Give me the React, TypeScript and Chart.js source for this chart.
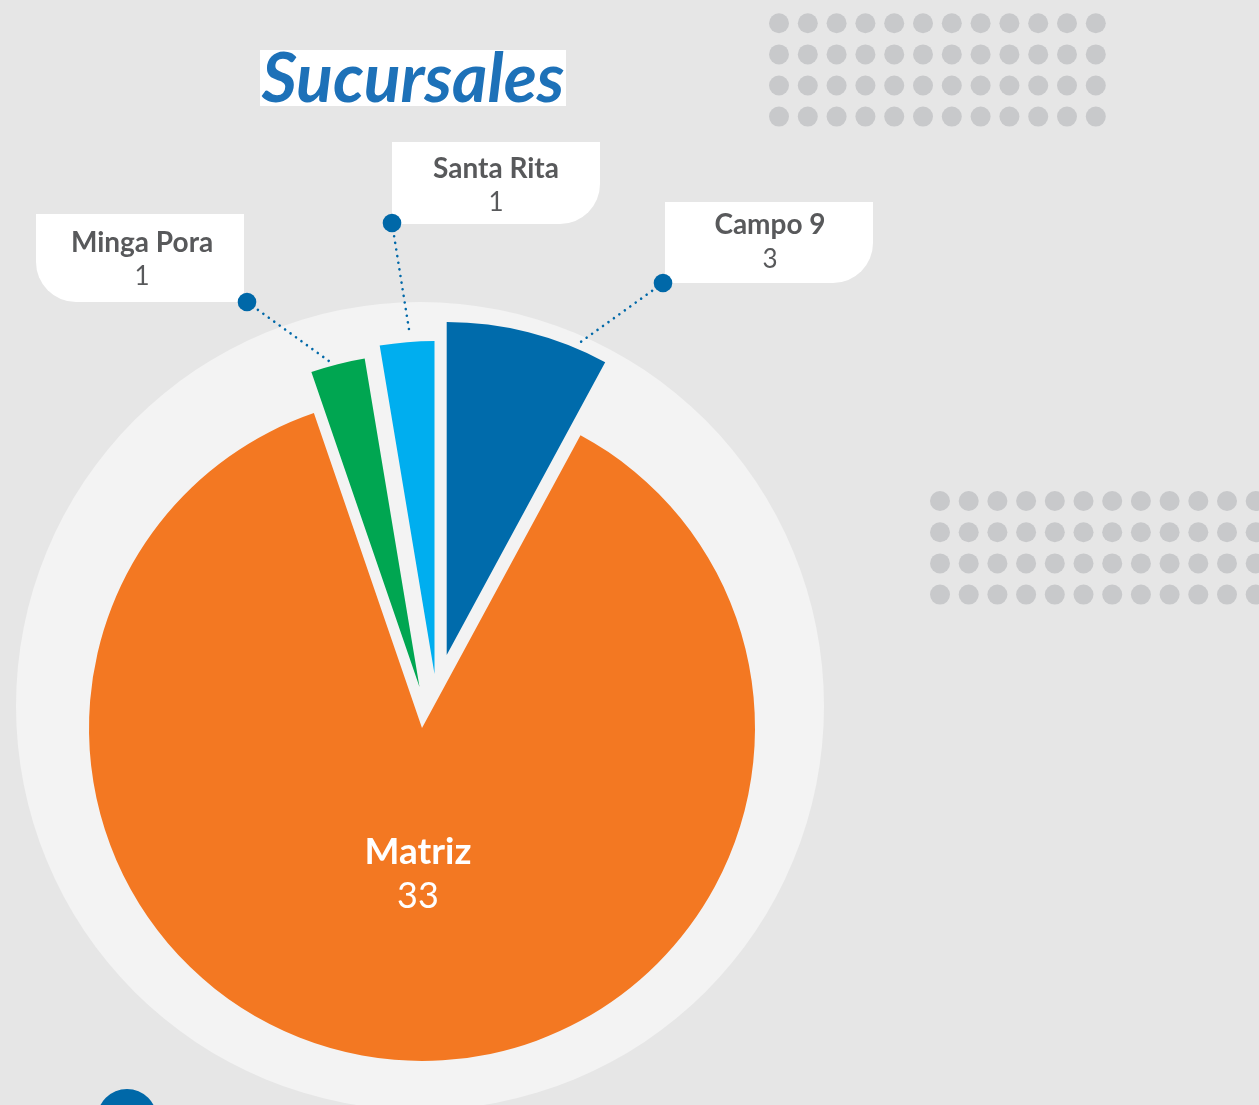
import React, { useEffect, useRef } from 'react';
import { Chart, registerables, ArcElement } from 'chart.js';

Chart.register(...registerables);

// ---- data ----
const categories = ['Campo 9', 'Matriz', 'Minga Pora', 'Santa Rita'];
const values = [3, 33, 1, 1];
const sliceColors = ['#006bab', '#f37822', '#00a651', '#00aeef'];

// ---- style constants ----
const W = 1259;
const H = 1105;
const PIE_RADIUS = 333;
const RING_RADIUS = 404;
const sliceShiftX = [26.7, 2, -0.5, 14.5];
const sliceShiftY = [-51, 22, -19, -32];

type Callout = {
  index: number; box: [number, number, number, number]; round: 'bl' | 'br';
  dot: [number, number]; text: [number, number]; val: [number, number];
  t: number; extra: number;
};
const callouts: Callout[] = [
  { index: 2, box: [36, 214, 208, 88], round: 'bl', dot: [247, 302], text: [142, 252], val: [142, 285], t: 0.38, extra: 4 },
  { index: 3, box: [392, 142, 208, 82], round: 'br', dot: [392, 223], text: [496, 178], val: [496, 211], t: 0.56, extra: 8 },
  { index: 0, box: [665, 202, 208, 81], round: 'br', dot: [663, 283], text: [770, 234], val: [770, 268], t: 0.81, extra: 6 },
];

function dotGrid(ctx: CanvasRenderingContext2D, x0: number, y0: number, cols: number, rows: number, dx: number, dy: number) {
  ctx.fillStyle = '#c8c9cb';
  for (let r = 0; r < rows; r++) {
    for (let c = 0; c < cols; c++) {
      ctx.beginPath();
      ctx.arc(x0 + c * dx, y0 + r * dy, 10, 0, Math.PI * 2);
      ctx.fill();
    }
  }
}

function roundedBox(ctx: CanvasRenderingContext2D, x: number, y: number, w: number, h: number, corner: 'bl' | 'br', r: number) {
  ctx.beginPath();
  ctx.moveTo(x, y);
  ctx.lineTo(x + w, y);
  if (corner === 'br') {
    ctx.lineTo(x + w, y + h - r);
    ctx.arcTo(x + w, y + h, x + w - r, y + h, r);
    ctx.lineTo(x, y + h);
  } else {
    ctx.lineTo(x + w, y + h);
    ctx.lineTo(x + r, y + h);
    ctx.arcTo(x, y + h, x, y + h - r, r);
  }
  ctx.closePath();
  ctx.fill();
}

const decorPlugin = {
  id: 'decor',
  beforeDatasetsDraw(chart: any) {
    const ctx: CanvasRenderingContext2D = chart.ctx;
    const meta = chart.getDatasetMeta(0);
    // shift each slice (exploded layout)
    meta.data.forEach((el: any, i: number) => {
      if (!el.__shifted) {
        el.__shifted = true;
        el.draw = function (c: CanvasRenderingContext2D, area: any) {
          c.save();
          c.translate(sliceShiftX[i] || 0, sliceShiftY[i] || 0);
          ArcElement.prototype.draw.call(this, c, area);
          c.restore();
        };
      }
    });
    const cx = (chart.chartArea.left + chart.chartArea.right) / 2;
    const cy = (chart.chartArea.top + chart.chartArea.bottom) / 2;
    ctx.save();
    // dot grids
    dotGrid(ctx, 779, 23.3, 12, 4, 28.8, 31.1);
    dotGrid(ctx, 940, 501, 12, 4, 28.7, 31.2);
    // light ring
    ctx.fillStyle = '#f3f3f3';
    ctx.beginPath();
    ctx.arc(cx, cy, RING_RADIUS, 0, Math.PI * 2);
    ctx.fill();
    // bottom-left blue circle
    ctx.fillStyle = '#0068a8';
    ctx.beginPath();
    ctx.arc(127, 1119, 30, 0, Math.PI * 2);
    ctx.fill();
    // title
    ctx.fillStyle = '#ffffff';
    ctx.fillRect(260, 50, 306, 56);
    ctx.fillStyle = '#1d71b8';
    ctx.font = 'italic bold 68px Lato';
    ctx.textAlign = 'center';
    ctx.textBaseline = 'alphabetic';
    ctx.fillText('Sucursales', 413, 102);
    ctx.restore();
  },
  afterDatasetsDraw(chart: any) {
    const ctx: CanvasRenderingContext2D = chart.ctx;
    const meta = chart.getDatasetMeta(0);
    ctx.save();
    callouts.forEach((co) => {
      const el = meta.data[co.index];
      const { x, y, startAngle, endAngle, outerRadius } = el.getProps(['x', 'y', 'startAngle', 'endAngle', 'outerRadius'], true);
      const a = startAngle + (endAngle - startAngle) * co.t;
      const ex = x + sliceShiftX[co.index] + Math.cos(a) * (outerRadius + co.extra);
      const ey = y + sliceShiftY[co.index] + Math.sin(a) * (outerRadius + co.extra);
      // box
      ctx.fillStyle = '#ffffff';
      roundedBox(ctx, co.box[0], co.box[1], co.box[2], co.box[3], co.round, 40);
      // dotted leader
      ctx.strokeStyle = '#0068a8';
      ctx.lineWidth = 2.6;
      ctx.lineCap = 'round';
      ctx.setLineDash([0.01, 6.7]);
      ctx.beginPath();
      ctx.moveTo(co.dot[0], co.dot[1]);
      ctx.lineTo(ex, ey);
      ctx.stroke();
      ctx.setLineDash([]);
      ctx.fillStyle = '#0068a8';
      ctx.beginPath();
      ctx.arc(co.dot[0], co.dot[1], 9.3, 0, Math.PI * 2);
      ctx.fill();
      // text
      ctx.fillStyle = '#58595b';
      ctx.textAlign = 'center';
      ctx.textBaseline = 'alphabetic';
      ctx.font = 'bold 28px Lato';
      ctx.fillText(categories[co.index], co.text[0], co.text[1]);
      ctx.font = '26px Lato';
      ctx.fillText(String(values[co.index]), co.val[0], co.val[1]);
    });
    // Matriz label inside slice
    const m = meta.data[1];
    const mp = m.getProps(['x', 'y'], true);
    const mx = mp.x + sliceShiftX[1];
    const my = mp.y + sliceShiftY[1];
    ctx.fillStyle = '#ffffff';
    ctx.textAlign = 'center';
    ctx.font = 'bold 37px Lato';
    ctx.fillText(categories[1], mx - 4, my + 136);
    ctx.font = '36px Lato';
    ctx.fillText(String(values[1]), mx - 4, my + 180);
    ctx.restore();
  },
};

export default function App() {
  const ref = useRef<HTMLCanvasElement>(null);
  useEffect(() => {
    if (!ref.current) return;
    const chart = new Chart(ref.current, {
      type: 'pie',
      data: {
        labels: categories,
        datasets: [{
          data: values,
          backgroundColor: sliceColors,
          borderWidth: 0,
        }],
      },
      options: {
        responsive: false,
        animation: false,
        radius: PIE_RADIUS,
        rotation: 0,
        layout: { padding: { left: 0, right: 419, top: 307, bottom: 0 } },
        plugins: { legend: { display: false }, tooltip: { enabled: false }, title: { display: false } },
        events: [],
      } as any,
      plugins: [decorPlugin],
    });
    return () => chart.destroy();
  }, []);
  return (
    <div style={{ position: 'fixed', left: 0, top: 0, width: W, height: H, background: '#e6e6e6', overflow: 'hidden' }}>
      <canvas ref={ref} width={W} height={H} style={{ display: 'block' }} />
    </div>
  );
}
